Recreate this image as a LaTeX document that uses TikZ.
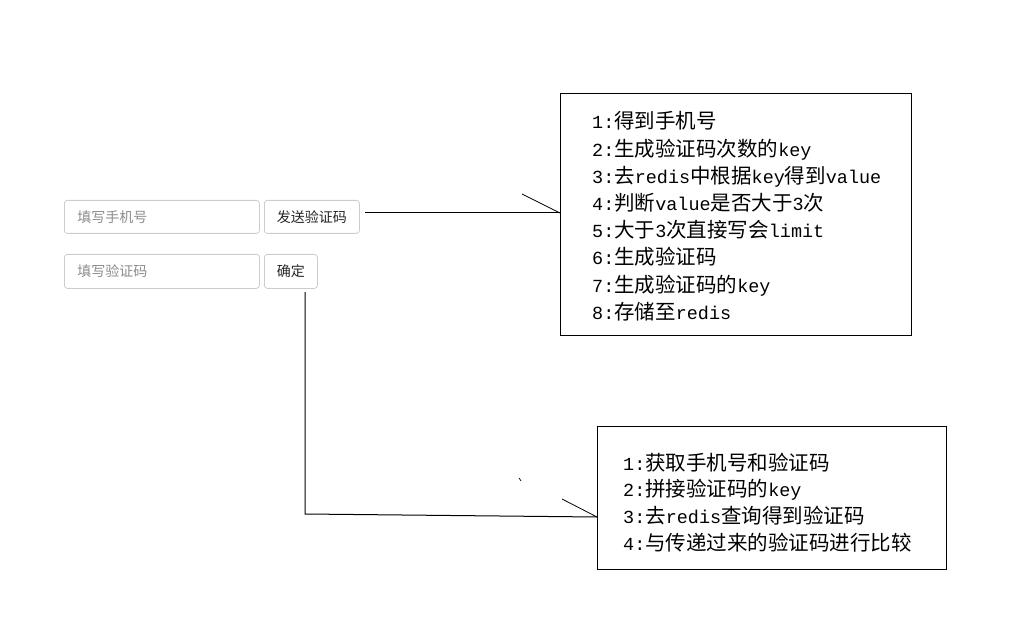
\documentclass[tikz,border=0pt]{standalone}
\usepackage{fontspec}
\setmainfont{Liberation Mono}[Scale=0.9]
\newfontfamily\cjk{Noto Sans CJK SC}
\newcommand\C[1]{{\cjk #1}}
\begin{document}
\begin{tikzpicture}[x=1pt,y=-1pt,
  field/.style={draw=black!20, rounded corners=3pt, line width=0.8pt, inner sep=0pt, anchor=north west,
    font=\cjk\fontsize{14}{14}\selectfont},
  placeholder/.style={field, text=black!45, align=left, inner xsep=13pt},
  btn/.style={field, text=black!85},
  box/.style={draw=black, line width=1pt, anchor=north west, inner sep=0pt},
  stepline/.style={anchor=base west, inner sep=0pt, font=\fontsize{20.5}{27}\selectfont},
  wire/.style={draw=black, line width=1pt}]
\useasboundingbox (0,0) rectangle (1014,620);

% form
\node[placeholder, minimum width=195pt, minimum height=33pt, text width=169pt] (phone) at (64,200) {填写手机号};
\node[btn, minimum width=95pt, minimum height=33pt] (send) at (264,200) {发送验证码};
\node[placeholder, minimum width=195pt, minimum height=34pt, text width=169pt] (code) at (64,254) {填写验证码};
\node[btn, minimum width=53pt, minimum height=34pt] (ok) at (264,254) {确定};

% boxes
\node[box, minimum width=351pt, minimum height=242pt] (box1) at (560,93) {};
\node[box, minimum width=349pt, minimum height=143pt] (box2) at (597,426) {};

\foreach \t [count=\i] in {
  1:\C{得到手机号},
  2:\C{生成验证码次数的}key,
  3:\C{去}redis\C{中根据}key\C{得到}value,
  4:\C{判断}value\C{是否大于}3\C{次},
  5:\C{大于}3\C{次直接写会}limit,
  6:\C{生成验证码},
  7:\C{生成验证码的}key,
  8:\C{存储至}redis}
  \node[stepline] (sa\i) at (592,{129+27.2*(\i-1)}) {\t};

\foreach \t [count=\i] in {
  1:\C{获取手机号和验证码},
  2:\C{拼接验证码的}key,
  3:\C{去}redis\C{查询得到验证码},
  4:\C{与传递过来的验证码进行比较}}
  \node[stepline] (sb\i) at (623,{470+26.9*(\i-1)}) {\t};

% connector 1
\coordinate (s1) at (365,213);
\coordinate (e1) at (560,213);
\coordinate (b1) at (522,194);
\draw[wire] (s1) -- (e1);
\draw[wire, line width=0.8pt] (b1) -- (e1);

% connector 2
\coordinate (s2) at (305,292);
\coordinate (k2) at (305,514);
\coordinate (e2) at (597,517);
\coordinate (b2) at (562,499);
\draw[wire] (s2) -- (k2) -- (e2);
\draw[wire, line width=0.8pt] (b2) -- (e2);
\coordinate (tk1) at (519,478);
\coordinate (tk2) at (521,481);
\draw[wire, line width=0.7pt] (tk1) -- (tk2);
\end{tikzpicture}
\end{document}
